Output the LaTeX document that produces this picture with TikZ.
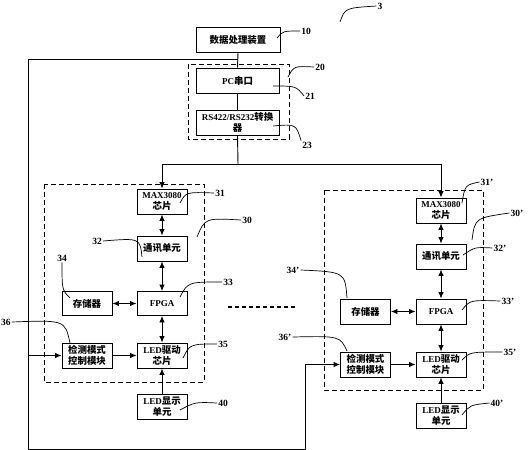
\documentclass[tikz,border=0pt]{standalone}
\usepackage{fontspec}
\setmainfont{Liberation Serif}
\newfontfamily\cjk[Scale=1.05]{Noto Sans CJK SC}
\newcommand{\zh}[1]{{\cjk #1}}
\usetikzlibrary{arrows.meta}
\tikzset{
  unit/.style = {draw, line width=0.9pt, minimum width=50pt, minimum height=25pt,
                 inner sep=1pt, align=center, font=\bfseries\fontsize{9}{11}\selectfont},
  group/.style = {draw, line width=0.9pt, dash pattern=on 5pt off 3pt},
  tag/.style = {font=\bfseries\fontsize{9.5}{10}\selectfont, inner sep=1pt},
  lead/.style = {line width=0.7pt},
  link/.style = {line width=0.9pt},
  >={Latex[length=6.5pt,width=5.5pt]}
}
\begin{document}
\begin{tikzpicture}[x=1pt, y=-1pt]
            \useasboundingbox (0,0) rectangle (528,450);
            % host side
            \node[unit, minimum width=84pt] (proc) at (238,39.5) {\zh{数据处理装置}};
            \node[unit, minimum width=83pt] (pc) at (237.5,80.5) {PC\zh{串口}};
            \node[unit, minimum width=83pt] (conv) at (237.5,122.5) {RS422/RS232\zh{转换}\\\zh{器}};
            \draw[group] (188,64) rectangle (289,139);
            % first display terminal
            \node[unit] (maxA) at (162,201.5) {MAX3080\\\zh{芯片}};
            \node[unit] (commA) at (162,248.5) {\zh{通讯单元}};
            \node[unit, minimum height=24pt] (fpgaA) at (162,303.5) {FPGA};
            \node[unit, minimum height=24pt] (memA) at (87,303.5) {\zh{存储器}};
            \node[unit] (detA) at (87,355.5) {\zh{检测模式}\\\zh{控制模块}};
            \node[unit] (drvA) at (162,355.5) {LED\zh{驱动}\\\zh{芯片}};
            \node[unit] (dispA) at (162,407) {LED\zh{显示}\\\zh{单元}};
            \draw[group] (44,184) rectangle (204,382);
            % second display terminal
            \node[unit] (maxB) at (441,210.5) {MAX3080\\\zh{芯片}};
            \node[unit] (commB) at (441,256.5) {\zh{通讯单元}};
            \node[unit] (fpgaB) at (441,311.5) {FPGA};
            \node[unit] (memB) at (365.5,311.5) {\zh{存储器}};
            \node[unit] (detB) at (365.5,364.5) {\zh{检测模式}\\\zh{控制模块}};
            \node[unit] (drvB) at (441,364.5) {LED\zh{驱动}\\\zh{芯片}};
            \node[unit] (dispB) at (441,415.5) {LED\zh{显示}\\\zh{单元}};
            \draw[group] (324,190) rectangle (483,390);
            % links
            \coordinate (bus) at (238,164);
            \coordinate (tap) at (238,59);
            \coordinate (loopL) at (28,449);
            \coordinate (loopR) at (305,449);
            \draw[link] (proc.south) -- (pc.north);
            \draw[link] (pc.south) -- (conv.north);
            \draw[link] (conv.south) -- (bus);
            \draw[link, ->] (bus) -| (maxA.north);
            \draw[link, ->] (bus) -| (maxB.north);
            \draw[link, ->] (tap) -| (loopL) -- (loopR) |- (detB.west);
            \draw[link, ->] (loopL |- detA.west) -- (detA.west);
            \draw[link, <->] (maxA) -- (commA);
            \draw[link, <->] (commA) -- (fpgaA);
            \draw[link, <->] (memA) -- (fpgaA);
            \draw[link, <->] (fpgaA) -- (drvA);
            \draw[link, ->] (detA) -- (drvA);
            \draw[link, ->] (dispA) -- (drvA);
            \draw[link, <->] (maxB) -- (commB);
            \draw[link, <->] (commB) -- (fpgaB);
            \draw[link, <->] (memB) -- (fpgaB);
            \draw[link, <->] (fpgaB) -- (drvB);
            \draw[link, ->] (detB) -- (drvB);
            \draw[link, ->] (dispB) -- (drvB);
            \draw[line width=2pt, dash pattern=on 4pt off 3pt] (228,307) -- (295,307);
            % reference numerals
            \node[tag] (l3) at (380,6) {3};
            \node[tag] (l10) at (306,31) {10};
            \node[tag] (l20) at (320,67) {20};
            \node[tag] (l21) at (310,96) {21};
            \node[tag] (l23) at (307,145) {23};
            \draw[lead] (340,22) .. controls (345,8) .. (l3.west);
            \draw[lead] (277,38) .. controls (283,31) .. (l10.west);
            \draw[lead] (288,77) .. controls (294,66) .. (l20.west);
            \draw[lead] (273,86) .. controls (296,86) .. (l21.west);
            \draw[lead] (273,126) .. controls (296,124) .. (l23.north west);
            \node[tag] (l31) at (220,193) {31};
            \node[tag] (l30) at (247,220) {30};
            \node[tag] (l32) at (97,241) {32};
            \node[tag] (l33) at (228,282) {33};
            \node[tag] (l34) at (62,258) {34};
            \node[tag] (l36) at (6,322) {36};
            \node[tag] (l35) at (223,344) {35};
            \node[tag] (l40) at (223,403) {40};
            \draw[lead] (180,203) .. controls (186,192) .. (l31.west);
            \draw[lead] (197,237) .. controls (205,218) .. (l30.west);
            \draw[lead] (l32.east) .. controls (140,238) .. (142,257);
            \draw[lead] (180,297) .. controls (188,282) .. (l33.west);
            \draw[lead] (l34.south) .. controls (62,290) .. (70,298);
            \draw[lead] (l36.east) .. controls (65,320) .. (70,343);
            \draw[lead] (183,358) .. controls (190,344) .. (l35.west);
            \draw[lead] (180,410) .. controls (195,402) .. (l40.west);
            \node[tag] (l31b) at (487,182) {31'};
            \node[tag] (l30b) at (517,213) {30'};
            \node[tag] (l32b) at (500,248) {32'};
            \node[tag] (l33b) at (508,301) {33'};
            \node[tag] (l34b) at (293,270) {34'};
            \node[tag] (l36b) at (285,337) {36'};
            \node[tag] (l35b) at (510,352) {35'};
            \node[tag] (l40b) at (497,403) {40'};
            \draw[lead] (462,203) .. controls (465,185) .. (l31b.west);
            \draw[lead] (472,240) .. controls (475,218) .. (l30b.west);
            \draw[lead] (463,255) .. controls (475,247) .. (l32b.west);
            \draw[lead] (462,310) .. controls (470,300) .. (l33b.west);
            \draw[lead] (l34b.east) .. controls (345,272) .. (347,298);
            \draw[lead] (l36b.east) .. controls (340,336) .. (347,351);
            \draw[lead] (462,360) .. controls (470,352) .. (l35b.west);
            \draw[lead] (462,415) .. controls (470,405) .. (l40b.west);
\end{tikzpicture}
\end{document}
